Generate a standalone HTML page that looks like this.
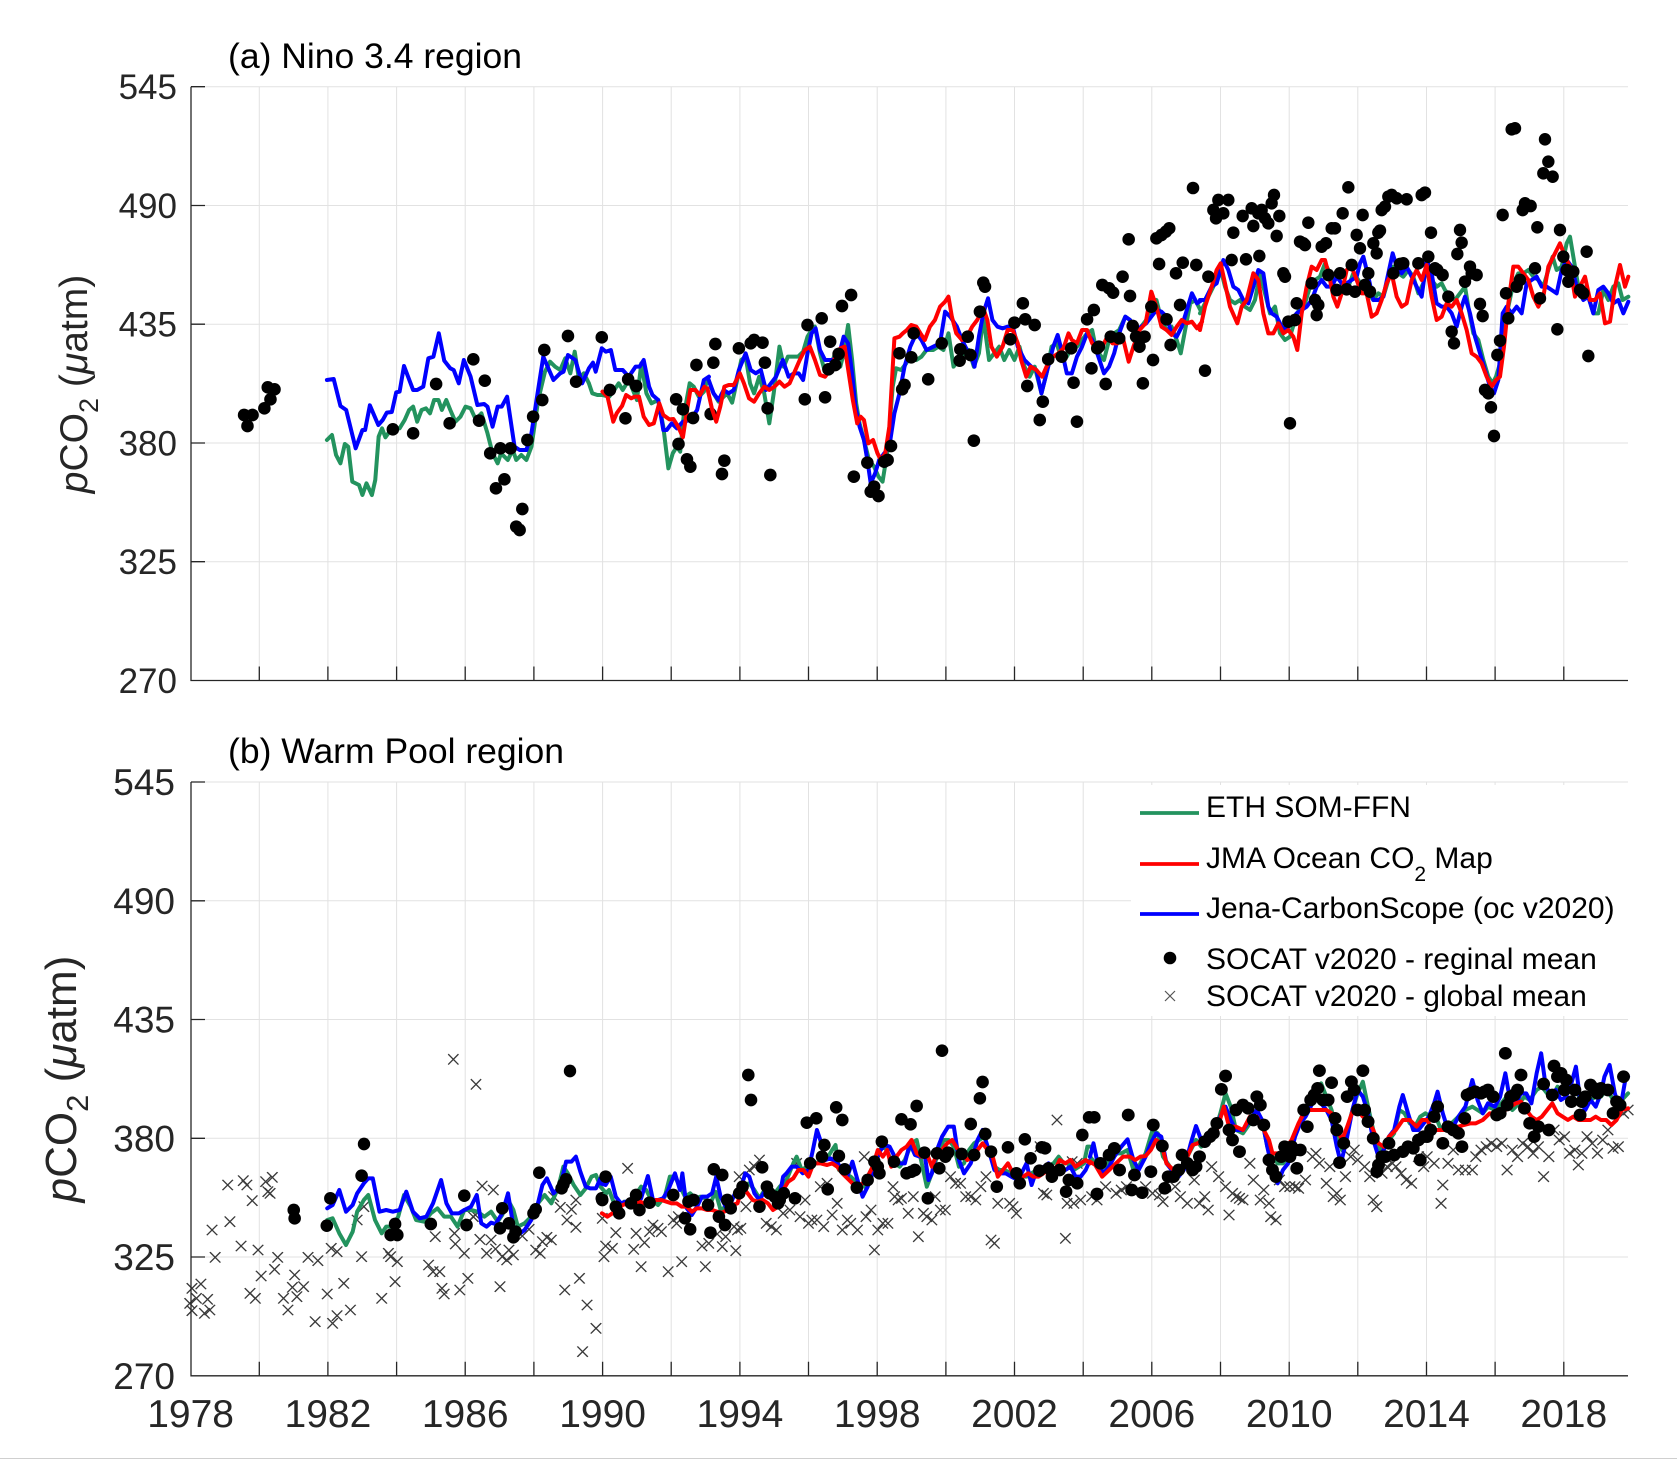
<!DOCTYPE html>
<html><head><meta charset="utf-8"><style>
html,body{margin:0;padding:0;background:#fff;}
svg{display:block;font-family:"Liberation Sans",Arial,Helvetica,sans-serif;}
.g{stroke:#e2e2e2;stroke-width:1;fill:none}
.ax{stroke:#262626;stroke-width:1.3;fill:none}
.l{fill:none;stroke-width:4;stroke-linejoin:round;stroke-linecap:round;vector-effect:non-scaling-stroke}
.gr{stroke:#23935e}.rd{stroke:#ff0000}.bl{stroke:#0000ff}
.tk{fill:#262626}
</style></head><body>
<svg width="1677" height="1459" viewBox="0 0 1677 1459" xmlns="http://www.w3.org/2000/svg">
<defs>
<marker id="d" markerUnits="userSpaceOnUse" markerWidth="50" markerHeight="50" refX="25" refY="25"><ellipse cx="25" cy="25" rx="18.6" ry="19" fill="#000"/></marker>
<marker id="d3" markerUnits="userSpaceOnUse" markerWidth="50" markerHeight="50" refX="25" refY="25"><ellipse cx="25" cy="25" rx="14.1" ry="19" fill="#000"/></marker>
<marker id="x" markerUnits="userSpaceOnUse" markerWidth="50" markerHeight="50" refX="25" refY="25"><path d="M9.6 9.4l30.8 31.2m0-31.2l-30.8 31.2" stroke="#3a3a3a" stroke-width="3.9" fill="none"/></marker>
<marker id="x3" markerUnits="userSpaceOnUse" markerWidth="50" markerHeight="50" refX="25" refY="25"><path d="M13.3 9.4l23.4 31.2m0-31.2l-23.4 31.2" stroke="#3a3a3a" stroke-width="3.4" fill="none"/></marker>
</defs>
<rect width="1677" height="1459" fill="#fff"/>

<g class="g">
<path d="M191 86.7H1628M191 205.5H1628M191 324.2H1628M191 443H1628M191 561.7H1628"/>
<path d="M259.3 86.7V680.5M327.9 86.7V680.5M396.6 86.7V680.5M465.2 86.7V680.5M533.9 86.7V680.5M602.6 86.7V680.5M671.2 86.7V680.5M739.9 86.7V680.5M808.5 86.7V680.5M877.2 86.7V680.5M945.9 86.7V680.5M1014.5 86.7V680.5M1083.2 86.7V680.5M1151.8 86.7V680.5M1220.5 86.7V680.5M1289.2 86.7V680.5M1357.8 86.7V680.5M1426.5 86.7V680.5M1495.1 86.7V680.5M1563.8 86.7V680.5"/>
</g>
<g class="g">
<path d="M191 782H1628M191 900.8H1628M191 1019.5H1628M191 1138.3H1628M191 1257H1628"/>
<path d="M259.3 782V1375.8M327.9 782V1375.8M396.6 782V1375.8M465.2 782V1375.8M533.9 782V1375.8M602.6 782V1375.8M671.2 782V1375.8M739.9 782V1375.8M808.5 782V1375.8M877.2 782V1375.8M945.9 782V1375.8M1014.5 782V1375.8M1083.2 782V1375.8M1151.8 782V1375.8M1220.5 782V1375.8M1289.2 782V1375.8M1357.8 782V1375.8M1426.5 782V1375.8M1495.1 782V1375.8M1563.8 782V1375.8"/>
</g>

<g transform="translate(190,300) scale(0.33807,0.33333)">
<polyline class="l gr" points="405,420 420,405 432,465 445,490 458,432 468,440 480,545 500,555 510,585 522,550 538,585 548,540 558,410 568,385 578,412 590,395 605,385 620,385 635,360 648,330 660,320 672,365 685,330 698,325 710,340 722,300 735,300 745,330 758,300 770,330 785,365 800,350 815,320 830,325 845,358 862,340 880,400 895,460 910,490 920,460 940,480 955,450 965,480 980,465 995,480 1010,440 1030,300 1050,215 1065,185 1080,200 1095,210 1110,175 1125,220 1138,155 1150,235 1165,220 1180,250 1190,280 1205,285 1220,285 1240,290 1255,270 1268,250 1280,270 1298,240 1310,270 1322,300 1335,190 1350,280 1365,310 1385,300 1400,380 1415,505 1428,460 1440,440 1450,455 1460,350 1478,250 1490,260 1505,290 1520,275 1530,240"/>
<polyline class="l bl" points="405,240 425,237 445,318 462,330 490,445 510,390 518,390 532,316 557,375 570,360 582,338 597,336 610,277 620,275 633,198 660,270 672,270 690,260 705,175 720,170 736,100 752,182 770,205 780,210 795,250 810,180 830,230 850,315 870,312 880,320 895,380 910,320 922,320 938,290 960,440 975,450 995,450 1010,400 1025,300 1045,170 1075,240 1095,220 1105,215 1118,165 1140,180 1160,250 1180,205 1192,188 1200,215 1218,145 1230,155 1245,150 1258,210 1280,210 1298,230 1318,200 1330,200 1342,180 1358,260 1368,285 1385,300 1400,390 1410,390 1425,370 1440,385 1458,365 1480,360 1500,330 1520,240 1535,230"/>
<polyline class="l rd" points="1220,275 1235,290 1252,365 1262,340 1278,318 1290,285 1305,295 1315,290 1328,290 1342,350 1358,375 1372,370 1388,310 1400,345 1418,358 1430,357 1445,382 1458,412 1468,345 1480,270 1495,270 1508,285 1522,260"/>
<polyline fill="none" stroke="none" marker-start="url(#d)" marker-mid="url(#d)" marker-end="url(#d)" points="160,345 185,345 170,378 230,262 250,268 238,298 220,325 600,388 660,400 728,252 768,370 838,178 872,242 855,362 888,460 918,445 948,445 930,538 905,565 983,627 965,680 975,690 998,420 1015,350 1042,300 1048,150 1118,108 1142,245 1218,112 1242,270 1288,355 1296,238 1320,258 1438,298 1458,328 1498,195 1548,188 1554,132 1488,354 1540,342 1445,432 1470,478 1480,500"/>
</g>
<g transform="translate(700,220) scale(0.33807,0.33333)">
<polyline class="l gr" points="25,480 40,520 55,545 70,530 80,520 95,548 110,480 122,420 135,410 148,490 160,520 175,470 190,520 205,610 218,520 235,380 248,440 260,410 275,410 290,410 305,395 318,350 330,330 340,320 355,400 368,450 385,440 400,400 415,440 425,400 438,315 450,420 462,550 472,610 485,660 500,720 515,740 528,770 540,785 555,690 570,500 580,445 595,450 610,430 625,400 640,420 655,410 670,390 690,390 705,380 720,390 735,340 750,440 765,420 780,400 795,390 810,440 825,400 838,290 855,420 870,400 885,380 900,420 915,390 930,420 945,380 960,440 975,470 990,440 1010,520 1025,460 1040,380 1055,370 1070,420 1085,410 1100,380 1115,380 1130,360 1145,340 1160,330 1170,380 1180,400 1195,420 1210,360 1225,340 1240,330 1258,290 1272,300 1290,340 1305,320 1320,300 1335,270 1350,240 1365,300 1380,330 1395,320 1410,360 1422,400 1435,330 1450,250 1465,240 1480,270"/>
<polyline class="l bl" points="25,478 40,520 55,540 70,510 85,520 100,510 115,450 135,400 150,450 165,460 180,450 195,510 210,490 225,470 245,420 262,470 278,460 292,460 305,480 318,400 330,340 342,325 355,390 370,420 390,420 410,410 425,350 438,370 450,460 460,560 472,620 485,660 495,720 505,790 518,760 530,720 545,700 560,680 575,580 590,520 605,440 622,380 640,340 655,360 670,390 690,380 710,370 725,275 740,290 760,320 775,360 790,390 800,400 812,440 825,350 838,280 852,235 865,300 880,320 895,325 910,320 925,320 940,380 960,420 980,440 995,450 1010,520 1030,440 1045,380 1058,345 1072,400 1085,460 1100,460 1115,410 1130,380 1145,340 1160,360 1175,400 1195,460 1210,440 1225,400 1240,340 1258,290 1272,300 1290,330 1305,320 1320,310 1335,290 1350,270 1365,275 1380,290 1395,340 1410,350 1425,320 1440,270 1455,220 1470,250 1485,240"/>
<polyline class="l rd" points="22,505 35,565 48,605 60,560 72,500 85,495 100,495 118,460 130,490 145,535 160,545 175,520 190,500 205,510 220,500 235,485 250,500 265,490 280,455 295,420 310,390 325,380 340,420 355,465 370,470 385,450 400,410 415,385 428,380 440,460 452,540 465,610 475,590 485,600 498,670 512,660 525,700 535,720 548,700 560,620 575,355 590,350 600,340 612,330 625,315 640,320 652,340 665,360 680,320 695,300 710,260 725,245 735,230 745,290 758,340 775,360 790,350 805,320 820,300 838,265 850,300 862,380 878,410 895,380 910,330 925,330 940,370 950,420 965,470 978,440 995,450 1012,470 1025,440 1045,410 1060,400 1075,385 1090,340 1100,360 1115,370 1130,330 1145,330 1160,370 1175,390 1190,380 1205,350 1220,370 1235,370 1250,350 1268,425 1282,380 1300,330 1318,310 1335,215 1350,260 1365,320 1380,330 1395,345 1410,320 1425,300 1440,310 1455,305 1470,325 1485,305"/>
<polyline fill="none" stroke="none" marker-start="url(#d)" marker-mid="url(#d)" marker-end="url(#d)" points="72,722 65,762 115,385 150,370 160,360 185,368 192,428 200,565 208,765 310,538 318,315 360,295 370,532 385,365 380,448 400,435 410,402 420,258 447,225 455,770 495,728 505,815 515,800 528,828 545,725 555,720 565,678 590,400 598,508 605,495 625,412 632,340 675,478 715,370 770,388 768,422 792,350 800,405 810,662 828,275 838,188 843,200 918,358 930,308 955,250 962,298 990,315 1005,600 968,498 1014,545 1030,418 1070,410 1098,385 1105,488 1115,605 1145,298 1165,270 1158,445 1175,385 1180,380 1200,492 1190,195 1210,205 1222,218 1215,350 1240,355 1250,170 1268,58 1272,228 1280,318 1290,350 1300,380 1310,490 1315,350 1335,260 1340,420 1350,55 1365,45 1378,35 1388,25 1358,132 1380,298 1392,375 1408,160 1428,128 1468,135 1420,255"/>
</g>
<g transform="translate(1200,100) scale(0.33333)">
<polyline class="l gr" points="0,640 20,600 40,560 60,500 75,560 90,600 105,610 120,600 135,620 150,630 165,600 180,520 195,580 210,640 225,620 240,700 255,720 270,710 285,660 300,620 315,610 330,560 345,540 360,530 375,490 390,520 400,560 415,570 430,550 445,560 460,520 475,540 490,570 505,580 520,600 535,580 550,590 565,540 580,500 595,520 610,530 625,510 640,530 655,580 670,550 680,490 695,540 710,560 725,550 735,570 750,590 765,600 780,580 795,560 805,620 820,700 835,720 850,780 865,830 878,850 888,830 900,790 912,700 925,620 940,550 955,520 970,520 985,510 1000,530 1015,540 1030,560 1045,510 1058,470 1070,510 1085,500 1100,430 1110,410 1120,470 1135,560 1150,570 1165,590 1180,640 1195,640 1210,570 1225,600 1240,560 1255,550 1268,600 1285,590"/>
<polyline class="l bl" points="0,600 15,600 35,560 50,550 70,480 85,510 100,560 115,570 130,600 145,610 160,560 175,510 190,520 205,620 215,640 230,650 245,680 260,690 275,660 290,640 305,630 320,620 335,600 350,560 365,540 380,560 395,560 410,530 425,550 440,550 455,540 470,530 480,490 490,470 505,530 520,600 535,600 550,590 565,520 578,460 590,500 605,520 620,500 635,530 650,560 665,590 680,480 695,520 710,610 725,620 740,620 755,640 770,680 785,620 795,590 810,640 825,710 840,760 855,810 870,860 882,880 895,840 908,640 920,620 935,640 950,620 965,640 980,550 995,540 1010,530 1025,560 1040,560 1055,570 1070,580 1085,510 1100,480 1115,500 1130,560 1150,600 1165,590 1180,640 1195,570 1210,560 1225,580 1240,610 1255,600 1270,640 1285,605"/>
<polyline class="l rd" points="0,690 15,620 35,560 50,510 62,490 75,550 90,620 112,670 125,620 140,600 160,520 175,540 190,640 205,700 220,700 235,670 250,700 265,690 280,710 292,750 305,640 320,560 335,500 350,510 365,480 375,480 388,530 400,590 412,620 425,580 440,510 455,500 470,540 485,580 500,580 515,650 530,640 545,600 560,550 575,520 590,590 605,620 620,610 635,540 650,510 665,540 680,495 695,590 710,660 725,650 740,610 755,620 770,600 785,640 800,690 815,760 830,770 845,790 860,830 875,860 888,840 900,830 912,740 925,610 940,500 955,500 970,520 985,540 1000,590 1015,620 1030,590 1045,500 1060,470 1080,430 1095,470 1110,500 1125,590 1140,560 1155,530 1170,600 1185,600 1200,580 1215,670 1230,665 1245,560 1260,495 1275,560 1285,530"/>
<polyline fill="none" stroke="none" marker-start="url(#d)" marker-mid="url(#d)" marker-end="url(#d)" points="15,812 25,530 40,330 55,300 70,340 85,300 48,355 95,480 100,398 128,348 138,478 155,325 160,378 175,340 178,468 185,330 195,355 205,370 215,310 222,285 230,408 238,348 250,520 255,530 265,665 270,970 285,660 290,610 300,425 310,430 315,435 325,368 335,550 345,600 350,645 355,615 365,440 378,430 385,525 395,385 405,385 410,570 420,520 428,340 440,568 445,262 455,495 465,575 470,405 480,445 488,345 495,555 505,520 510,575 520,430 530,460 535,398 540,392 545,330 555,320 565,290 575,285 590,295 600,492 610,490 620,298 580,520 655,490 665,285 675,278 685,470 693,398 705,505 712,510 728,525 745,590 755,695 762,730 772,462 780,390 785,428 795,545 810,500 815,520 830,525 840,612 848,648 855,870 865,880 873,922 882,1008 892,765 900,722 908,345 918,580 925,655 935,88 945,85 950,560 960,540 968,330 975,310 992,318 1005,505 1012,382 1020,595 1030,220 1035,118 1045,185 1058,230 1072,688 1080,390 1090,470 1100,510 1105,545 1120,515 1140,570 1150,580 1160,455 1165,768"/>
</g>
<circle cx="1193" cy="188" r="6.3" fill="#000"/>

<g transform="translate(0,1150) scale(0.44643,0.33333)">
<polyline fill="none" stroke="none" marker-start="url(#x3)" marker-mid="url(#x3)" marker-end="url(#x3)" points="510,105 545,92 553,105 565,152 595,95 600,125 610,82 605,130 515,215 475,240 482,322 540,288 578,300 585,378 560,430 572,445 622,322 615,358 430,415 440,445 450,402 425,460 430,482 465,448 458,490 470,480 660,375 655,412 665,440 680,410 690,322 712,332 635,445 645,480 706,515 733,432 745,520 755,497 770,400 785,480 742,295 755,305 800,210 810,320 815,170 855,445 870,310 875,320 885,395 890,335 960,345 970,365 985,365 990,415 995,432 1030,420 1048,385 1040,310 1075,268 1090,310 1080,108 1105,120 1120,410 1125,320 1135,330 1150,315 1140,300 1018,250 975,260 1020,282 1060,200 1065,195 1100,270 1110,297 1170,258 1185,238 1200,300 1210,310 1215,275 1225,262 1235,270 1265,420 1298,385 1315,465 1335,535 1305,605 1270,210 1290,232 1280,178 1255,172 1240,140 1290,150"/>
<polyline class="l gr" points="733,210 745,205 760,250 775,285 790,245 800,185 815,150 825,135 840,210 855,250 865,230 878,230 892,200 905,135 920,170 932,210 950,215 965,190 980,175 995,200 1010,200 1025,230 1040,180 1055,180 1070,185 1085,200 1100,185 1115,215 1125,195 1138,150 1150,180 1160,230 1175,220 1190,200 1205,160 1220,135 1235,160 1250,115 1262,50 1272,70 1285,105 1300,135 1312,115 1325,80 1335,75 1345,110 1358,130"/>
<polyline class="l bl" points="733,175 745,165 760,120 775,185 790,165 800,130 815,100 825,85 835,85 850,185 865,180 880,185 895,180 910,125 925,185 940,205 955,200 970,160 988,90 1000,160 1012,190 1028,190 1040,180 1055,170 1068,135 1078,220 1090,230 1100,218 1110,222 1125,190 1138,130 1150,230 1160,255 1175,240 1190,210 1205,160 1215,105 1225,85 1240,130 1255,110 1268,35 1280,35 1290,20 1300,65 1312,110 1322,115 1335,115 1345,85 1358,100"/>
<polyline fill="none" stroke="none" marker-start="url(#d3)" marker-mid="url(#d3)" marker-end="url(#d3)" points="740,145 732,227 810,77 658,180 660,205 1040,137 875,255 885,222 890,255 965,222 1045,225 1120,235 1125,175 1140,220 1150,262 1155,245 1195,190 1200,178 1208,68 1258,115 1262,103 1268,88 1348,145"/>
</g>
<g transform="translate(150,1020) scale(0.33333)">
<polyline fill="none" stroke="none" marker-start="url(#x)" marker-end="url(#x)" points="910,118 978,193"/>
<polyline fill="none" stroke="none" marker-start="url(#d)" marker-end="url(#d)" points="1260,153 642,372"/>
</g>
<g transform="translate(560,1030) scale(0.33807,0.33333)">
<polyline fill="none" stroke="none" marker-start="url(#x)" marker-mid="url(#x)" marker-end="url(#x)" points="125,565 135,648 155,655 130,680 165,608 200,415 218,658 225,610 240,710 250,638 265,605 275,585 290,595 300,605 320,725 345,580 360,695 335,570 350,560 430,710 420,648 440,640 465,612 480,650 490,620 520,662 515,590 525,600 535,595 550,530 560,420 575,410 590,390 530,440 610,580 625,590 640,600 660,550 680,540 700,400 710,560 725,510 735,580 745,570 760,570 780,590 770,470 790,460 805,555 820,520 835,600 850,570 860,580 880,600 900,380 905,560 920,540 930,660 940,600 955,580 970,580 985,470 990,500 1000,510 1010,505 1030,550 1045,500 1060,620 1075,550 1085,560 1100,570 1110,500 1125,540 1140,540 1155,440 1170,460 1185,460 1200,500 1215,500 1230,510 1245,470 1260,440 1275,630 1285,640 1295,520 1330,520 1340,530 1350,550 1420,350 1430,490 1440,495 1470,270 1495,625 1500,520 1520,520 1540,510 1515,395 1530,400"/>
<polyline class="l gr" points="125,500 145,480 160,520 175,530 190,515 205,520 220,500 240,470 255,480 270,510 290,525 310,500 325,440 340,440 355,470 370,500 385,490 400,505 415,500 430,505 445,520 460,485 475,540 490,530 510,505 525,480 545,465 560,460 575,480 590,505 605,480 620,470 635,490 650,470 670,450 690,400 700,380 715,420 730,410 745,390 760,400 775,395 790,385 805,360 815,345 825,420 840,430 860,440 880,460 900,470 915,430 930,400 945,360 960,350 975,380 990,400 1005,410 1020,390 1040,340 1055,330 1070,400 1085,470 1100,430 1115,380 1135,330 1150,330 1165,350 1180,410 1195,400 1210,360 1225,340 1240,330 1255,320 1270,370 1285,410 1300,420 1315,420 1335,430 1350,440 1365,440 1380,440 1395,430 1410,420 1425,430 1440,410 1460,400 1475,380 1490,400 1505,400 1520,420 1535,410 1550,400 1560,350 1568,350"/>
<polyline class="l bl" points="120,460 135,465 150,440 165,500 180,520 195,515 210,510 225,520 240,505 260,438 275,510 290,510 305,505 320,480 340,430 355,480 362,430 375,535 390,555 405,530 420,500 435,500 450,490 462,440 475,500 490,530 505,520 520,485 535,475 548,430 560,440 575,490 590,510 605,485 620,480 635,490 648,505 660,440 670,430 685,410 700,410 718,430 735,420 748,360 760,300 770,330 785,390 800,385 818,395 835,420 850,440 865,395 880,450 895,500 910,470 925,430 945,365 960,345 975,350 990,380 1005,400 1020,400 1035,340 1050,375 1065,380 1078,370 1090,450 1100,430 1115,360 1130,320 1148,290 1165,290 1180,390 1195,430 1215,400 1235,330 1250,300 1268,360 1285,420 1300,430 1318,430 1335,440 1355,450 1370,420 1380,400 1395,465 1410,420 1425,415 1445,400 1460,430 1478,420 1495,420 1510,410 1525,440 1540,440 1555,420 1568,390"/>
<polyline class="l rd" points="124,550 140,560 155,550 170,540 185,525 200,520 215,525 235,515 250,520 270,515 285,510 300,510 315,515 330,520 345,520 360,530 375,530 390,545 405,535 420,535 435,540 450,540 465,545 480,548 495,540 510,525 525,520 540,470 555,490 570,510 585,515 600,510 615,520 630,540 645,530 660,480 675,455 690,445 705,420 720,420 735,440 750,400 770,400 790,405 805,400 820,410 835,430 850,445 865,460 880,470 895,460 910,440 925,410 940,360 955,380 968,360 980,410 995,380 1010,360 1025,350 1040,330 1055,370 1070,380 1085,370 1100,410 1115,370 1130,360 1145,340 1160,330 1175,355 1190,370 1205,390 1220,380 1235,360 1250,340 1265,360 1280,380 1295,440 1310,420 1325,400 1340,430 1355,440 1370,440 1385,430 1400,440 1415,440 1430,430 1445,420 1460,430 1478,390 1495,400 1510,390 1525,410 1540,400 1555,390 1568,400"/>
<polyline fill="none" stroke="none" marker-start="url(#d)" marker-mid="url(#d)" marker-end="url(#d)" points="135,440 125,510 165,530 175,550 210,520 225,495 235,540 265,518 335,495 370,565 385,598 380,515 395,510 438,525 445,608 455,418 480,435 470,560 488,585 495,510 505,535 530,490 540,470 590,530 598,412 612,470 620,490 635,500 645,520 650,510 662,490 695,505 557,135 565,210 730,278 758,265 740,400 782,345 775,380 792,478 825,378 842,418 817,232 835,270 878,473 910,450 930,395 940,410 945,430 952,335 988,395 1010,268 1037,283 1055,228 1025,430 1040,425 1050,420 1078,368 1088,505 1115,370 1122,415 1130,62 1140,380 1148,368 1188,372 1215,282 1225,375 1242,205 1250,156 1258,312 1275,365 1292,470 1325,352 1350,430 1360,460 1375,328 1392,385 1418,422 1425,352 1435,355 1445,415 1455,440 1478,420 1497,485 1505,450 1530,460 1545,315 1565,262"/>
</g>
<g transform="translate(1090,1030) scale(0.34758,0.33333)">
<polyline fill="none" stroke="none" marker-start="url(#x)" marker-mid="url(#x)" marker-end="url(#x)" points="5,500 20,510 45,470 75,490 90,480 105,470 160,470 180,490 200,495 210,515 245,470 260,500 280,520 300,450 315,520 330,500 340,540 350,410 370,440 390,470 400,555 410,490 420,500 430,505 440,510 460,400 470,450 490,510 500,480 515,520 520,560 535,570 545,450 560,470 575,470 590,470 600,475 620,450 640,380 650,370 660,400 680,460 690,410 700,500 710,490 720,510 735,440 750,380 760,360 770,390 790,410 805,440 815,510 825,530 840,430 855,410 870,400 880,410 895,430 910,450 925,460 945,380 960,410 970,380 990,400 1010,520 1015,465 1030,400 1045,360 1060,420 1080,420 1100,420 1110,380 1125,360 1140,350 1155,340 1170,350 1185,340 1200,420 1215,360 1230,380 1245,340 1260,350 1275,370 1290,350 1305,440 1320,380 1335,300 1350,330 1365,320 1380,370 1395,360 1405,405 1415,370 1430,320 1445,340 1460,370 1475,330 1490,300 1505,355 1520,350 1535,250 1548,240"/>
<polyline class="l gr" points="0,380 15,400 30,420 50,400 70,370 90,370 108,360 125,420 140,410 160,370 180,300 195,310 210,380 230,410 250,430 270,400 290,360 305,330 320,350 340,330 360,300 375,250 390,190 405,230 420,300 440,310 460,280 480,260 495,270 510,350 525,380 540,400 555,400 570,380 590,310 605,270 620,230 635,220 650,180 665,160 680,200 695,240 710,300 725,360 740,300 755,240 770,190 785,155 800,230 815,300 830,360 845,350 860,330 875,310 890,240 905,250 920,280 935,290 950,260 965,250 980,260 995,260 1010,300 1025,290 1040,280 1060,260 1080,240 1100,230 1115,240 1130,250 1145,230 1165,240 1180,225 1195,205 1215,240 1235,220 1250,200 1265,210 1285,180 1300,170 1315,190 1330,200 1345,170 1360,190 1380,180 1398,170 1410,210 1425,230 1440,210 1455,200 1470,200 1485,180 1500,200 1515,230 1530,210 1548,190"/>
<polyline class="l bl" points="0,380 10,340 22,400 38,430 55,410 70,380 90,350 108,328 125,390 140,420 160,380 175,340 190,310 205,320 220,400 235,420 255,440 270,420 290,340 305,288 320,330 340,330 360,300 375,260 390,230 405,270 420,300 440,300 460,270 480,240 495,270 510,350 525,420 540,460 555,420 570,400 590,320 605,280 620,260 635,230 650,195 665,220 680,240 695,270 710,350 722,400 738,330 755,240 770,180 785,200 800,250 815,330 830,380 845,360 860,320 875,300 890,230 900,195 915,250 930,300 945,300 960,280 975,260 990,220 1000,185 1015,250 1030,300 1045,290 1060,260 1080,230 1100,150 1115,210 1130,250 1145,220 1165,230 1180,200 1195,130 1210,220 1225,220 1240,190 1255,190 1270,220 1285,130 1298,70 1310,160 1325,200 1340,180 1355,210 1370,200 1385,160 1398,110 1410,210 1425,240 1440,210 1455,230 1470,190 1480,140 1495,105 1510,190 1525,240 1540,150 1548,140"/>
<polyline class="l rd" points="0,395 15,405 35,440 55,420 75,400 95,380 115,380 130,390 145,380 160,378 175,360 190,330 205,340 220,400 240,420 260,430 280,380 295,345 310,340 325,330 345,320 365,300 385,230 400,290 420,290 440,300 460,260 480,260 500,300 515,330 525,370 545,370 560,360 580,330 600,280 615,250 630,240 645,240 660,240 680,240 695,250 712,300 725,330 740,290 755,245 770,240 785,260 800,270 815,300 830,340 845,350 860,320 880,300 900,270 920,270 940,290 955,270 970,270 985,300 1000,300 1015,300 1030,300 1045,290 1060,290 1075,285 1095,280 1110,280 1130,270 1150,250 1165,250 1180,260 1195,240 1210,230 1225,220 1240,215 1255,240 1270,260 1285,270 1300,260 1315,240 1330,220 1345,250 1360,260 1375,270 1390,260 1405,270 1420,270 1440,270 1455,260 1470,270 1485,270 1500,285 1515,270 1530,240 1548,235"/>
<polyline fill="none" stroke="none" marker-start="url(#d)" marker-mid="url(#d)" marker-end="url(#d)" points="12,262 110,255 182,285 208,348 30,400 20,492 55,375 70,355 85,420 120,480 128,435 150,488 175,425 215,475 225,440 240,440 255,420 265,375 280,400 295,420 305,410 315,380 330,335 345,320 355,310 365,280 378,178 390,138 400,300 410,330 430,365 420,240 440,225 455,235 470,270 480,200 490,225 500,285 515,390 525,420 535,440 550,380 560,350 575,380 580,350 590,360 595,415 605,360 615,240 625,290 635,210 645,195 655,175 660,122 670,210 685,210 695,158 705,265 710,300 718,398 730,340 740,200 752,155 760,180 770,240 785,122 790,240 800,275 815,325 825,425 830,405 840,380 850,380 860,340 875,375 900,365 915,350 930,355 945,330 950,390 960,320 970,320 980,300 990,260 1000,230 1015,340 1030,290 1045,300 1060,310 1070,350 1078,265 1085,195 1095,190 1108,185 1125,190 1135,185 1145,180 1160,200 1170,255 1180,250 1195,70 1200,225 1210,200 1220,195 1230,180 1240,135 1250,235 1265,280 1278,320 1290,290 1305,162 1320,300 1330,195 1335,108 1345,140 1355,130 1365,180 1370,150 1385,215 1395,180 1410,255 1415,215 1425,200 1440,165 1450,175 1460,190 1470,175 1490,180 1505,250 1515,215 1525,225 1535,140"/>
</g>

<g class="ax">
<path d="M191 86.7V681M190.4 680.5H1628"/>
<path d="M191 86.7H205M191 205.5H205M191 324.2H205M191 443H205M191 561.7H205"/>
<path d="M259.3 680.5V666.5M327.9 680.5V666.5M396.6 680.5V666.5M465.2 680.5V666.5M533.9 680.5V666.5M602.6 680.5V666.5M671.2 680.5V666.5M739.9 680.5V666.5M808.5 680.5V666.5M877.2 680.5V666.5M945.9 680.5V666.5M1014.5 680.5V666.5M1083.2 680.5V666.5M1151.8 680.5V666.5M1220.5 680.5V666.5M1289.2 680.5V666.5M1357.8 680.5V666.5M1426.5 680.5V666.5M1495.1 680.5V666.5M1563.8 680.5V666.5"/>
<path d="M191 782V1376.4M190.4 1375.8H1628"/>
<path d="M191 782H205M191 900.8H205M191 1019.5H205M191 1138.3H205M191 1257H205"/>
<path d="M259.3 1375.8V1361.8M327.9 1375.8V1361.8M396.6 1375.8V1361.8M465.2 1375.8V1361.8M533.9 1375.8V1361.8M602.6 1375.8V1361.8M671.2 1375.8V1361.8M739.9 1375.8V1361.8M808.5 1375.8V1361.8M877.2 1375.8V1361.8M945.9 1375.8V1361.8M1014.5 1375.8V1361.8M1083.2 1375.8V1361.8M1151.8 1375.8V1361.8M1220.5 1375.8V1361.8M1289.2 1375.8V1361.8M1357.8 1375.8V1361.8M1426.5 1375.8V1361.8M1495.1 1375.8V1361.8M1563.8 1375.8V1361.8"/>
</g>

<text x="228" y="68" font-size="35.5" fill="#000">(a) Nino 3.4 region</text>
<text x="228" y="763" font-size="35.5" fill="#000">(b) Warm Pool region</text>

<g class="tk" font-size="35" text-anchor="end">
<text x="177" y="99.2">545</text><text x="177" y="218">490</text><text x="177" y="336.7">435</text><text x="177" y="455.5">380</text><text x="177" y="574.2">325</text><text x="177" y="693">270</text>
</g>
<g class="tk" font-size="37" text-anchor="end">
<text x="175" y="795">545</text><text x="175" y="913.8">490</text><text x="175" y="1032.5">435</text><text x="175" y="1151.3">380</text><text x="175" y="1270">325</text><text x="175" y="1388.8">270</text>
</g>
<g class="tk" font-size="39" text-anchor="middle">
<text x="190.6" y="1427">1978</text><text x="327.9" y="1427">1982</text><text x="465.2" y="1427">1986</text><text x="602.6" y="1427">1990</text><text x="739.9" y="1427">1994</text><text x="877.2" y="1427">1998</text><text x="1014.5" y="1427">2002</text><text x="1151.8" y="1427">2006</text><text x="1289.2" y="1427">2010</text><text x="1426.5" y="1427">2014</text><text x="1563.8" y="1427">2018</text>
</g>

<text class="tk" transform="translate(87,384) rotate(-90)" text-anchor="middle" font-size="39"><tspan font-style="italic">p</tspan>CO<tspan font-size="27" dy="11">2</tspan><tspan dy="-11"> (</tspan><tspan font-style="italic">μ</tspan>atm)</text>
<text class="tk" transform="translate(76,1079) rotate(-90)" text-anchor="middle" font-size="44"><tspan font-style="italic">p</tspan>CO<tspan font-size="31" dy="12">2</tspan><tspan dy="-12"> (</tspan><tspan font-style="italic">μ</tspan>atm)</text>

<rect x="1131" y="785" width="497" height="231" fill="#fff"/>
<path d="M1140 813H1199" stroke="#23935e" stroke-width="3.8"/>
<path d="M1140 864H1199" stroke="#ff0000" stroke-width="3.8"/>
<path d="M1140 914H1199" stroke="#0000ff" stroke-width="3.8"/>
<circle cx="1170" cy="958" r="6.3" fill="#000"/>
<path d="M1165 991l10 10m0-10l-10 10" stroke="#555" stroke-width="1.2"/>
<g font-size="30" fill="#000">
<text x="1206" y="817">ETH SOM-FFN</text>
<text x="1206" y="868">JMA Ocean CO<tspan font-size="21" dy="13">2</tspan><tspan dy="-13"> Map</tspan></text>
<text x="1206" y="918">Jena-CarbonScope (oc v2020)</text>
<text x="1206" y="969">SOCAT v2020 - reginal mean</text>
<text x="1206" y="1006">SOCAT v2020 - global mean</text>
</g>

<path d="M0 1458.5H1677" stroke="#cfcfcf" stroke-width="1"/>
</svg>
</body></html>
